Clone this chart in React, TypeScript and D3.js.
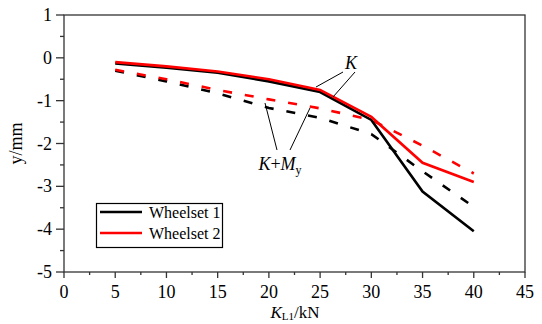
import React from "react";
import * as d3 from "d3";

// load values (kN)
const loads = [5, 10, 15, 20, 25, 30, 35, 40];

// displacement y/mm
const ws1K = [-0.13, -0.23, -0.35, -0.55, -0.8, -1.45, -3.12, -4.05];
const ws2K = [-0.1, -0.2, -0.32, -0.5, -0.75, -1.38, -2.45, -2.9];
const ws1KMy = [-0.3, -0.55, -0.83, -1.17, -1.4, -1.78, -2.65, -3.48];
const ws2KMy = [-0.28, -0.5, -0.75, -0.97, -1.18, -1.45, -2.05, -2.7];

const xTicks = [0, 5, 10, 15, 20, 25, 30, 35, 40, 45];
const yTicks = [1, 0, -1, -2, -3, -4, -5];

const W = 542;
const H = 324;
const m = { left: 64, right: 17, top: 15, bottom: 52 };
const font = '"Liberation Serif", Tinos, "Times New Roman", Times, serif';

export default function App() {
  const x = d3.scaleLinear().domain([0, 45]).range([m.left, W - m.right]);
  const y = d3.scaleLinear().domain([-5, 1]).range([H - m.bottom, m.top]);
  const line = d3
    .line<number>()
    .x((_, i) => x(loads[i]))
    .y((d) => y(d));

  const xMinor = d3.range(0, 45.01, 2.5).filter((v) => v % 5 !== 0);
  const yMinor = d3.range(-5, 1.01, 0.5).filter((v) => v % 1 !== 0);

  const series = [
    { vals: ws1KMy, color: "#000", dash: "9,13" },
    { vals: ws2KMy, color: "#f00", dash: "9,13" },
    { vals: ws1K, color: "#000", dash: null },
    { vals: ws2K, color: "#f00", dash: null },
  ];

  const x0 = m.left;
  const x1 = W - m.right;
  const y0 = H - m.bottom;
  const y1 = m.top;

  return (
    <svg
      width={W}
      height={H}
      style={{ position: "absolute", left: 0, top: 0, background: "#fff", fontFamily: font }}
    >
      {/* data lines */}
      {series.map((s, i) => (
        <path
          key={i}
          d={line(s.vals) || ""}
          fill="none"
          stroke={s.color}
          strokeWidth={2.6}
          strokeDasharray={s.dash || undefined}
        />
      ))}

      {/* frame */}
      <rect x={x0} y={y1} width={x1 - x0} height={y0 - y1} fill="none" stroke="#333" strokeWidth={1.3} />

      {/* y axis ticks */}
      {yTicks.map((t) => (
        <g key={"y" + t}>
          <line x1={x0 - 8} x2={x0} y1={y(t)} y2={y(t)} stroke="#333" strokeWidth={1.3} />
          <text x={x0 - 12} y={y(t) + 6} textAnchor="end" fontSize={18}>
            {t}
          </text>
        </g>
      ))}
      {yMinor.map((t) => (
        <line key={"ym" + t} x1={x0 - 4} x2={x0} y1={y(t)} y2={y(t)} stroke="#333" strokeWidth={1.3} />
      ))}

      {/* x axis ticks */}
      {xTicks.map((t) => (
        <g key={"x" + t}>
          <line x1={x(t)} x2={x(t)} y1={y0} y2={y0 + 6} stroke="#333" strokeWidth={1.3} />
          <text x={x(t)} y={y0 + 26} textAnchor="middle" fontSize={18}>
            {t}
          </text>
        </g>
      ))}
      {xMinor.map((t) => (
        <line key={"xm" + t} x1={x(t)} x2={x(t)} y1={y0} y2={y0 + 3} stroke="#333" strokeWidth={1.3} />
      ))}

      {/* axis titles */}
      <text x={295} y={318} textAnchor="middle" fontSize={17}>
        <tspan fontStyle="italic">K</tspan>
        <tspan fontSize={11} dy={2}>L1</tspan>
        <tspan dy={-2}>/kN</tspan>
      </text>
      <text transform={`translate(22,${(y0 + y1) / 2}) rotate(-90)`} textAnchor="middle" fontSize={18}>
        y/mm
      </text>

      {/* annotations */}
      <text x={351} y={69} textAnchor="middle" fontSize={18} fontStyle="italic">
        K
      </text>
      <line x1={343} y1={72} x2={316} y2={87} stroke="#000" strokeWidth={1} />
      <line x1={355} y1={72} x2={333} y2={97} stroke="#000" strokeWidth={1} />
      <text x={280} y={170} textAnchor="middle" fontSize={18}>
        <tspan fontStyle="italic">K</tspan>
        <tspan>+</tspan>
        <tspan fontStyle="italic">M</tspan>
        <tspan fontSize={12} dy={4}>y</tspan>
      </text>
      <line x1={277} y1={150} x2={265} y2={103} stroke="#000" strokeWidth={1} />
      <line x1={290} y1={150} x2={310} y2={108} stroke="#000" strokeWidth={1} />

      {/* legend */}
      <rect x={96.5} y={203.5} width={126} height={44} fill="#fff" stroke="#000" strokeWidth={1.2} />
      <line x1={100} x2={142} y1={212} y2={212} stroke="#000" strokeWidth={2.6} />
      <text x={149} y={218} fontSize={16}>
        Wheelset 1
      </text>
      <line x1={100} x2={142} y1={233} y2={233} stroke="#f00" strokeWidth={2.6} />
      <text x={149} y={239} fontSize={16}>
        Wheelset 2
      </text>
    </svg>
  );
}
